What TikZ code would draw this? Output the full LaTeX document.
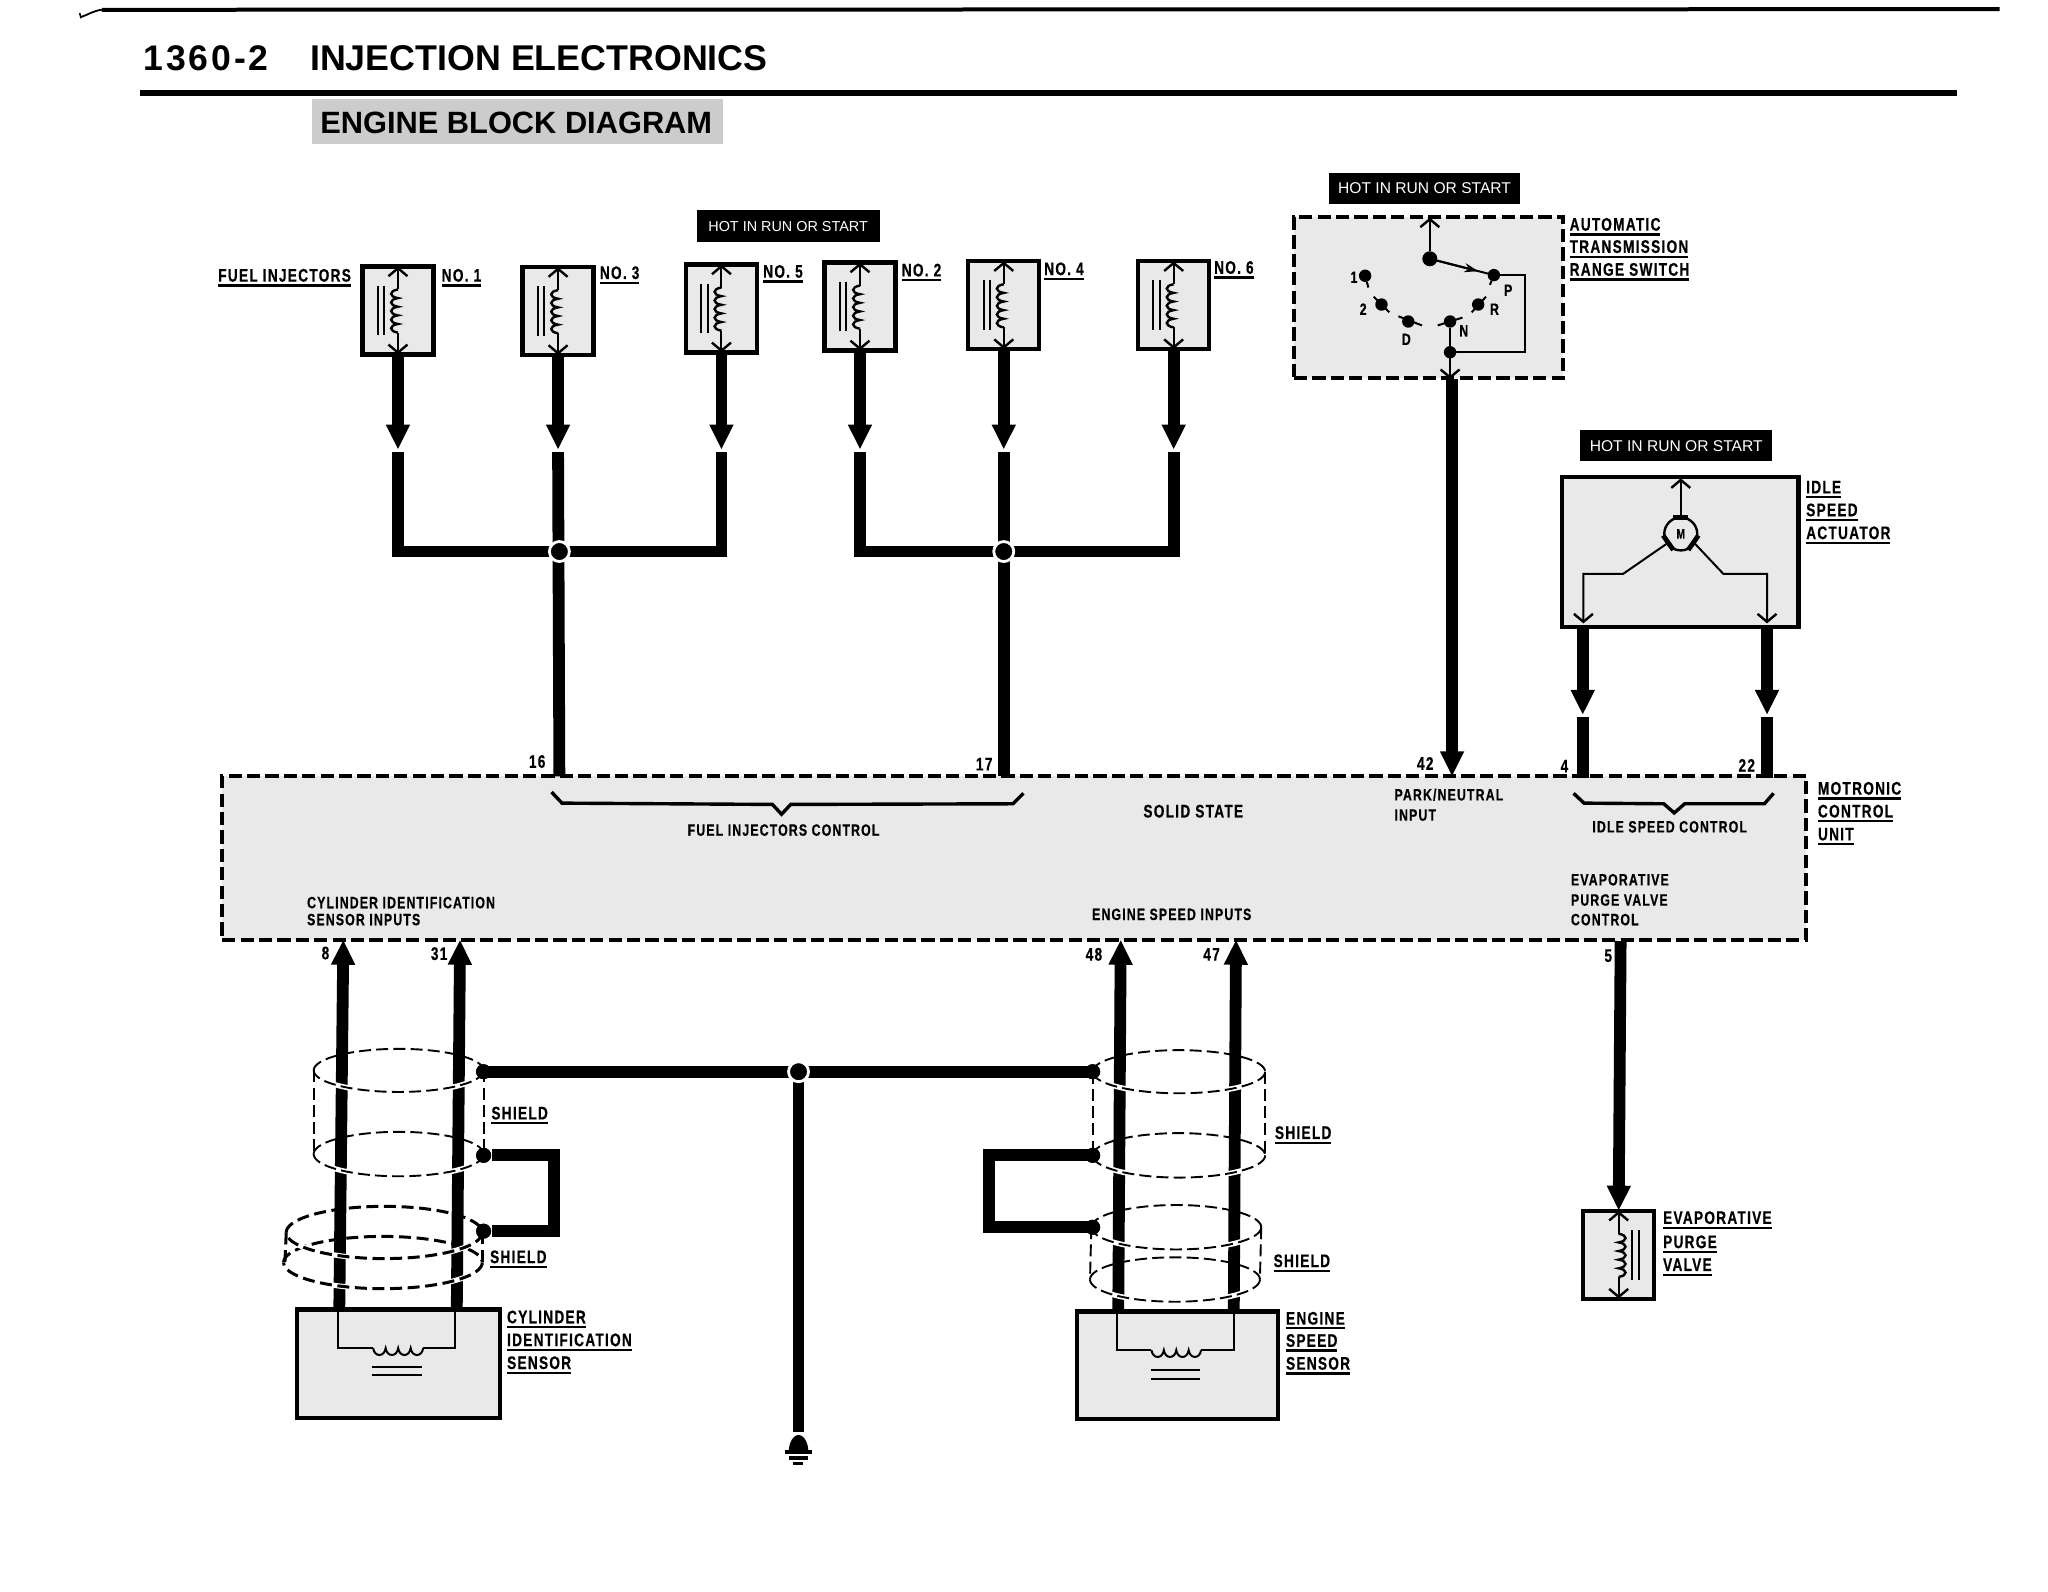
\documentclass[tikz,border=0pt]{standalone}
\usepackage{fontspec}
\usetikzlibrary{arrows.meta,shapes.geometric}
\setmainfont{Liberation Sans}
\newfontfamily\labfam[FakeStretch=0.75,LetterSpace=7,BoldFeatures={FakeBold=0.5}]{Liberation Sans}
\newfontfamily\hdfam[LetterSpace=8]{Liberation Sans}
\definecolor{stip}{gray}{0.915}
\tikzset{
  wire/.style={line width=5.9pt,line cap=butt,miter limit=10},
  headw/.style={wire,-{Triangle[length=12.5pt,width=11.2pt]}},
  fine/.style={line width=1pt},
  barb/.style={fine,-{Straight Barb[length=4pt,width=9.5pt,line width=1.2pt]}},
  gbox/.style={rectangle,draw,line width=2.1pt,fill=stip,inner sep=0pt,outer sep=0pt},
  dbox/.style={gbox,dash pattern=on 6.6pt off 2.6pt,line width=2pt},
  lab/.style={font=\labfam\bfseries\fontsize{9.1}{9}\selectfont,inner sep=0pt,outer sep=0pt,text height=6.5pt,text depth=0pt,anchor=west},
  slab/.style={font=\labfam\bfseries\fontsize{8.2}{8}\selectfont,inner sep=0pt,outer sep=0pt,text height=5.8pt,text depth=0pt,anchor=west},
  hot/.style={fill=black,text=white,inner sep=0pt,outer sep=0pt,rectangle,font=\fontsize{7.8}{8}\selectfont},
  ul/.style={line width=1.1pt},
  jdot/.style={circle,fill=black,draw=white,line width=1.4pt,minimum size=10pt,inner sep=0pt,outer sep=0pt},
  sdot/.style={circle,fill=black,minimum size=7.5pt,inner sep=0pt,outer sep=0pt},
  cdot/.style={circle,fill=black,minimum size=6.2pt,inner sep=0pt,outer sep=0pt},
  shl/.style={line width=0.95pt,dash pattern=on 6pt off 2.6pt},
  shb/.style={line width=1.5pt,dash pattern=on 6pt off 2.8pt},
  halo/.style={white,line width=2.6pt,dash pattern=on 100pt off 0pt},
}
\newcommand{\rnode}[6]{%
  \pgfmathsetmacro{\rw}{(#4-#2)*0.6535}\pgfmathsetmacro{\rh}{(#5-#3)*0.6535}%
  \pgfmathsetmacro{\rx}{(#4+#2)/2}\pgfmathsetmacro{\ry}{(#5+#3)/2}%
  \node[#6,minimum width=\rw pt,minimum height=\rh pt] (#1) at (\rx,\ry) {};}
\newcommand{\ulab}[4]{\node[lab] (#1) at (#2,#3) {#4};
  \draw[ul] ([yshift=-1.9pt]#1.south west) -- ([yshift=-1.9pt]#1.south east);}
\newcommand{\hcoil}[3]{\draw[fine] (#1,#3) \foreach \i in {0,1,2,3}{
   .. controls ({#1+(#2-#1)*(\i+0.1)/4},{#3+7}) and ({#1+(#2-#1)*(\i+0.9)/4},{#3+7}) .. ({#1+(#2-#1)*(\i+1)/4},{#3})};}
\newcommand{\inj}[4]{%
  \node[gbox,minimum width=35.5pt,minimum height=44pt] (#1) at (#2,#3) {};
  \begin{scope}[shift={(#2,#3)},xscale=#4]
    \draw[barb] (0,-16) -- (0,-33.5);
    \draw[barb] (0,17) -- (0,33.5);
    \draw[line width=1.2pt] (0,-16) \foreach \i in {0,...,4}{
      .. controls (-7,{-16+6.6*\i+1}) and (-7,{-16+6.6*\i+5.6}) .. (0,{-16+6.6*(\i+1)})};
    \draw[fine] (-15.5,-19) -- (-15.5,19);
    \draw[fine] (-10.5,-19) -- (-10.5,19);
  \end{scope}}
\newcommand{\rback}[5]{\draw[#5] plot[domain=180:360,samples=48,variable=\t] ({#1+#3*cos(\t)},{#2+#4*sin(\t)});}
\newcommand{\rfront}[5]{\draw[halo] plot[domain=0:180,samples=48,variable=\t] ({#1+#3*cos(\t)},{#2+#4*sin(\t)});
  \draw[#5] plot[domain=0:180,samples=48,variable=\t] ({#1+#3*cos(\t)},{#2+#4*sin(\t)});}
\begin{document}
\begin{tikzpicture}[x=0.6535pt,y=-0.6535pt]
\useasboundingbox (0,0) rectangle (1567,1217.4);
% page header
\draw[line width=2pt] (78,7.5) -- (1530,7);
\draw[line width=0.9pt] (62,13) .. controls (68,11) and (72,8) .. (78,7.5);
\draw[line width=0.8pt] (61,10) -- (62,14);
\draw[line width=3pt] (107,71) -- (1497,71);
\node[inner sep=0pt,anchor=west,font=\hdfam\bfseries\fontsize{17.8}{18}\selectfont] (pg) at (109.5,44.5) {1360-2};
\node[inner sep=0pt,anchor=west,font=\bfseries\fontsize{17.9}{18}\selectfont] (ttl) at (237,44.5) {INJECTION ELECTRONICS};
\rnode{tbg}{239}{76}{553}{110}{rectangle,fill=black!20,inner sep=0pt,outer sep=0pt}
\node[inner sep=0pt,font=\bfseries\fontsize{15.4}{16}\selectfont] (sub) at (395,94) {ENGINE BLOCK DIAGRAM};

% hot boxes
\rnode{hotA}{533}{161}{673}{185}{hot}
\node[font=\fontsize{7.2}{8}\selectfont,text=white,inner sep=0pt] (hotAt) at (hotA) {HOT IN RUN OR START};
\rnode{hotB}{1017}{132}{1163}{156}{hot}
\node[font=\fontsize{7.8}{8}\selectfont,text=white,inner sep=0pt] (hotBt) at (hotB) {HOT IN RUN OR START};
\rnode{hotC}{1209}{329}{1356}{353}{hot}
\node[font=\fontsize{7.8}{8}\selectfont,text=white,inner sep=0pt] (hotCt) at (hotC) {HOT IN RUN OR START};

% control unit
\rnode{ecu}{170}{594}{1382}{719}{dbox}

% injectors
\inj{injA}{304.5}{237.5}{1}
\inj{injC}{427}{238}{1}
\inj{injE}{552}{236}{1}
\inj{injB}{658}{234.5}{1}
\inj{injD}{768}{233.5}{1}
\inj{injF}{898}{233.5}{1}
\foreach \n/\x in {A/304.5,C/427,E/552,B/658,D/768,F/898}{
  \coordinate (tip\n) at (\x,344);
  \coordinate (top\n) at (\x,346);
  \coordinate (bus\n) at (\x,422);
  \draw[headw] (inj\n.south) -- (tip\n);
}
\coordinate (p16) at (428,594);
\coordinate (p17) at (768,594);
\node[jdot] (jL) at (428,422) {};
\node[jdot] (jR) at (768,422) {};
\draw[wire] (topA) -- (busA) -- (busE) -- (topE);
\draw[wire] (topB) -- (busB) -- (busF) -- (topF);
\draw[wire] (427,346) -- (p16);
\draw[wire] (topD) -- (p17);
\node[jdot] at (jL) {};
\node[jdot] at (jR) {};

% labels injectors
\ulab{lFI}{167}{210.5}{FUEL INJECTORS}
\ulab{lN1}{338}{210.5}{NO. 1}
\ulab{lN3}{459}{208.5}{NO. 3}
\ulab{lN5}{584}{207.5}{NO. 5}
\ulab{lN2}{690}{206.5}{NO. 2}
\ulab{lN4}{799}{205.5}{NO. 4}
\ulab{lN6}{929}{204.5}{NO. 6}

% range switch
\rnode{rng}{990}{166}{1196}{289}{dbox}
\node[sdot] (sW) at (1094,198) {};
\node[cdot] (c1) at (1044.5,211) {};
\node[cdot] (c2) at (1057,233) {};
\node[cdot] (cD) at (1077.5,246) {};
\node[cdot] (cN) at (1109.5,246) {};
\node[cdot] (cR) at (1131,233) {};
\node[cdot] (cP) at (1143,210.5) {};
\node[cdot] (cJ) at (1109.5,269.5) {};
\coordinate (rtop) at (1094,166.5);
\coordinate (rbot) at (1109.5,290);
\coordinate (rc1) at (1166.5,210.5);
\coordinate (rc2) at (1166.5,269.5);
\coordinate (rmid) at (1131,207.5);
\draw[barb] (sW) -- (rtop);
\draw[fine] (sW) -- (cP);
\draw[fine,-{Stealth[length=7pt,width=4.6pt]}] (sW) -- (rmid);
\draw[fine] (cP) -- (rc1) -- (rc2) -- (cJ);
\draw[line width=1.2pt] (cJ) -- (cN);
\draw[barb] (cJ) -- (rbot);
\draw[fine] (c1) -- (1047,220);
\draw[fine] (cP) -- (1140,218);
\draw[fine] (1051,227) -- (1063,239);
\draw[fine] (1070,242) -- (1088,249);
\draw[fine] (1100,249) -- (1119,243);
\draw[fine] (1126,239) -- (1137,227);
\node[slab,anchor=center] (t1) at (1036,212) {1};
\node[slab,anchor=center] (t2) at (1043,236.5) {2};
\node[slab,anchor=center] (tD) at (1076,259.5) {D};
\node[slab,anchor=center] (tN) at (1120,253) {N};
\node[slab,anchor=center] (tR) at (1143.5,236.5) {R};
\node[slab,anchor=center] (tP) at (1154,222) {P};
\ulab{lAT}{1201}{171.5}{AUTOMATIC}
\ulab{lTR}{1201}{188.5}{TRANSMISSION}
\ulab{lRS}{1201}{206}{RANGE SWITCH}
\coordinate (p42) at (1111,594);
\draw[headw] (1111,290) -- (p42);

% idle actuator
\rnode{act}{1195}{365}{1376}{480}{gbox}
\node[circle,draw,line width=1.2pt,fill=stip,minimum size=16.5pt,inner sep=0pt,font=\labfam\bfseries\fontsize{6.8}{7}\selectfont] (mot) at (1286,408.5) {M};
\draw[line width=2.4pt] (mot.65) -- (mot.115);
\draw[line width=2.4pt] (mot.185) -- (mot.245);
\draw[line width=2.4pt] (mot.295) -- (mot.355);
\coordinate (aT) at (1286,366);
\coordinate (aLb) at (1211.5,477);
\coordinate (aRb) at (1352,477);
\draw[barb] (mot.north) -- (aT);
\draw[barb] (mot.215) -- (1242,439) -- (1211.5,439) -- (aLb);
\draw[barb] (mot.325) -- (1318.5,439) -- (1352,439) -- (aRb);
\ulab{lID}{1382}{372.5}{IDLE}
\ulab{lSP}{1382}{390}{SPEED}
\ulab{lAC}{1382}{407.5}{ACTUATOR}
\coordinate (p4) at (1211,595);
\coordinate (p22) at (1352,595);
\coordinate (act4) at (1211,547);
\coordinate (act22) at (1352,547);
\draw[headw] (1211,481) -- (act4);
\draw[headw] (1352,481) -- (act22);
\draw[wire] (1211,548.5) -- (p4);
\draw[wire] (1352,548.5) -- (p22);

% control unit braces
\draw[line width=1.7pt] (422,606) -- (430,614.5) -- (591,615.5) -- (598,623) -- (605,615.5) -- (775,615) -- (783,607);
\draw[line width=1.7pt] (1204,607) -- (1212,614.5) -- (1273,615) -- (1281,622) -- (1289,615) -- (1350,615) -- (1357,607);

% control unit text
\node[slab,anchor=center] (tfi) at (599.5,635) {FUEL INJECTORS CONTROL};
\node[lab,anchor=center] (tss) at (913,620.5) {SOLID STATE};
\node[slab] (tpn) at (1067,608) {PARK/NEUTRAL};
\node[slab] (tin) at (1067,623.5) {INPUT};
\node[slab,anchor=center] (tis) at (1277.5,632.5) {IDLE SPEED CONTROL};
\node[slab] (tev) at (1202,673) {EVAPORATIVE};
\node[slab] (tpv) at (1202,688.5) {PURGE VALVE};
\node[slab] (tct) at (1202,703.5) {CONTROL};
\node[slab] (tci) at (235,690.5) {CYLINDER IDENTIFICATION};
\node[slab] (tsi) at (235,703.5) {SENSOR INPUTS};
\node[slab,anchor=center] (tes) at (896.5,699.5) {ENGINE SPEED INPUTS};
\ulab{lMO}{1391}{603}{MOTRONIC}
\ulab{lCO}{1391}{620.5}{CONTROL}
\ulab{lUN}{1391}{638}{UNIT}
% pins
\node[lab,anchor=center] (n16) at (411,582.5) {16};
\node[lab,anchor=center] (n17) at (753,584.5) {17};
\node[lab,anchor=center] (n42) at (1090.5,584) {42};
\node[lab,anchor=center] (n4) at (1197,586) {4};
\node[lab,anchor=center] (n22) at (1336.5,585.5) {22};
\node[lab,anchor=center] (n8) at (249,729) {8};
\node[lab,anchor=center] (n31) at (336,729.5) {31};
\node[lab,anchor=center] (n48) at (837,730) {48};
\node[lab,anchor=center] (n47) at (927,730) {47};
\node[lab,anchor=center] (n5) at (1230.5,731) {5};

% purge valve
\inj{val}{1238.5}{960}{-1}
\coordinate (p5) at (1240,720);
\draw[headw] (p5) -- (val.north);
\ulab{lEV}{1272.5}{931.5}{EVAPORATIVE}
\ulab{lPU}{1272.5}{950}{PURGE}
\ulab{lVA}{1272.5}{967.5}{VALVE}

% shields, back halves
\rback{305}{819}{65}{16.5}{shl}
\rback{305}{883}{65}{17}{shl}
\rback{294}{943}{75}{20}{shb}
\rback{293}{966}{76}{20}{shb}
\rback{902}{820}{66}{16.5}{shl}
\rback{902}{884}{66}{17}{shl}
\rback{900}{939}{65}{17}{shl}
\rback{899}{979}{65}{17}{shl}

% sensor boxes
\rnode{cyl}{227}{1002}{382.5}{1085}{gbox}
\rnode{eng}{824}{1003.5}{978}{1086}{gbox}
\coordinate (p8) at (262.7,719);
\coordinate (p31) at (352,719);
\coordinate (p48) at (857.5,719);
\coordinate (p47) at (945.7,719);
\draw[headw] (259.6,1002) -- (p8);
\draw[headw] (349.5,1002) -- (p31);
\draw[headw] (855.6,1003.5) -- (p48);
\draw[headw] (944,1003.5) -- (p47);

% shields, front halves and sides
\rfront{305}{819}{65}{16.5}{shl}
\rfront{305}{883}{65}{17}{shl}
\rfront{294}{943}{75}{20}{shb}
\rfront{293}{966}{76}{20}{shb}
\rfront{902}{820}{66}{16.5}{shl}
\rfront{902}{884}{66}{17}{shl}
\rfront{900}{939}{65}{17}{shl}
\rfront{899}{979}{65}{17}{shl}
\draw[shl] (240,819) -- (240,883);
\draw[shl] (370,819) -- (370,883);
\draw[shb] (219,943) -- (218,966);
\draw[shb] (369,943) -- (369,966);
\draw[shl] (836,820) -- (836,884);
\draw[shl] (968,820) -- (968,884);
\draw[shl] (835,939) -- (834,979);
\draw[shl] (965,939) -- (964,979);

% shield wiring
\node[sdot] (dA) at (370,820) {};
\node[sdot] (dB) at (370,884) {};
\node[sdot] (dC) at (370,942) {};
\node[sdot] (dD) at (836,820) {};
\node[sdot] (dE) at (836,884) {};
\node[sdot] (dF) at (836,939) {};
\node[jdot] (jG) at (611,820) {};
\coordinate (gndt) at (611,1096);
\coordinate (brA) at (424,884);
\coordinate (brB) at (424,942);
\coordinate (brC) at (757,884);
\coordinate (brD) at (757,939);
\draw[wire] (dA.center) -- (dD.center);
\draw[wire] (jG) -- (gndt);
\draw[wire] (376.5,884) -- (brA) -- (brB) -- (376.5,942);
\draw[wire] (dE.center) -- (brC) -- (brD) -- (dF.center);
\node[jdot] at (jG) {};
\node[sdot] at (dA) {};
\node[sdot] at (dD) {};
\node[sdot] at (dB) {};
\node[sdot] at (dC) {};
\node[sdot] at (dE) {};
\node[sdot] at (dF) {};
\ulab{lS1}{376}{851.5}{SHIELD}
\ulab{lS2}{375}{961.5}{SHIELD}
\ulab{lS3}{975.5}{866.5}{SHIELD}
\ulab{lS4}{974.5}{964.5}{SHIELD}

% sensor insides
\draw[fine] (258.8,1002) -- (258.8,1031.5) -- (285.5,1031.5);
\hcoil{285.5}{323.8}{1031.5}
\draw[fine] (323.8,1031.5) -- (348,1031.5) -- (348,1002);
\draw[fine] (285,1046) -- (323,1046);
\draw[fine] (285,1052) -- (323,1052);
\draw[fine] (854.5,1003.5) -- (854.5,1033) -- (881,1033);
\hcoil{881}{919}{1033}
\draw[fine] (919,1033) -- (944.5,1033) -- (944.5,1003.5);
\draw[fine] (881,1048.5) -- (918,1048.5);
\draw[fine] (881,1055) -- (918,1055);
\ulab{lCY}{388}{1007.5}{CYLINDER}
\ulab{lIDn}{388}{1025}{IDENTIFICATION}
\ulab{lSE}{388}{1042.5}{SENSOR}
\ulab{lEN}{984}{1008.5}{ENGINE}
\ulab{lSPd}{984}{1025.5}{SPEED}
\ulab{lSS}{984}{1043}{SENSOR}

% ground
\fill plot[domain=180:360,samples=24,variable=\t] ({611+7.5*cos(\t)},{1111+13*sin(\t)}) -- cycle;
\draw[line width=1.9pt] (600.5,1111) -- (621,1111);
\draw[line width=1.7pt] (603.7,1115.5) -- (618,1115.5);
\draw[line width=1.6pt] (607,1119.5) -- (614.5,1119.5);
\end{tikzpicture}
\end{document}
